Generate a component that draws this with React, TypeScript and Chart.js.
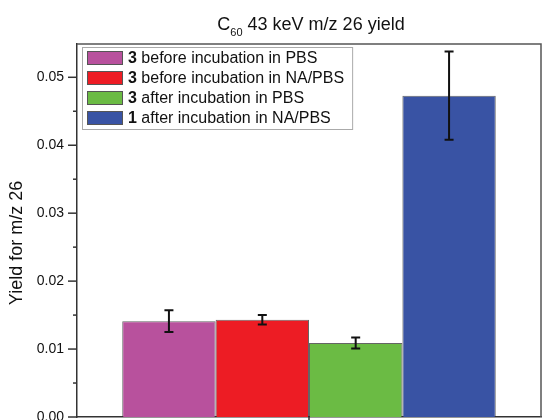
import React, { useEffect, useRef } from "react";
import { Chart, registerables } from "chart.js";

Chart.register(...registerables);

const categories = ["C60 43 keV m/z 26"];
const legendNumbers = ["3", "3", "3", "1"];
const legendTexts = [
  "before incubation in PBS",
  "before incubation in NA/PBS",
  "after incubation in PBS",
  "after incubation in NA/PBS",
];
const yieldValues = [0.0141, 0.0143, 0.0109, 0.0473];
const yieldErrors = [0.0016, 0.0007, 0.0008, 0.0065];
const barColors = ["#B8519D", "#ED1C24", "#6BBB44", "#3953A4"];
const yMin = 0;
const yMax = 0.0549;
const yStep = 0.005;
const yLabelStep = 0.01;
const titleMain = "C";
const titleSub = "60";
const titleRest = " 43 keV m/z 26 yield";
const yTitle = "Yield for m/z 26";

const FONT = "'Liberation Sans', Arial, Helvetica, sans-serif";

const isMultiple = (v: number, step: number) =>
  Math.abs(v / step - Math.round(v / step)) < 1e-6;

const customPlugin = {
  id: "customDraw",
  afterDatasetsDraw(chart: any) {
    const ctx = chart.ctx;
    const y = chart.scales.y;
    ctx.save();
    ctx.strokeStyle = "#111";
    ctx.lineWidth = 2;
    chart.data.datasets.forEach((ds: any, i: number) => {
      const meta = chart.getDatasetMeta(i);
      const bar = meta.data[0];
      if (!bar) return;
      const v = ds.data[0];
      const e = yieldErrors[i];
      const x = bar.x;
      const yt = y.getPixelForValue(v + e);
      const yb = y.getPixelForValue(v - e);
      ctx.beginPath();
      ctx.moveTo(x, yt);
      ctx.lineTo(x, yb);
      ctx.moveTo(x - 4.5, yt);
      ctx.lineTo(x + 4.5, yt);
      ctx.moveTo(x - 4.5, yb);
      ctx.lineTo(x + 4.5, yb);
      ctx.stroke();
    });
    ctx.restore();
  },
  afterDraw(chart: any) {
    const ctx = chart.ctx;
    const ca = chart.chartArea;
    const y = chart.scales.y;
    ctx.save();
    // frame top & right
    ctx.strokeStyle = "#555";
    ctx.lineWidth = 1.5;
    ctx.beginPath();
    ctx.moveTo(ca.left, ca.top);
    ctx.lineTo(ca.right, ca.top);
    ctx.lineTo(ca.right, ca.bottom);
    ctx.stroke();
    // y ticks
    ctx.strokeStyle = "#333";
    ctx.lineWidth = 1.5;
    y.ticks.forEach((t: any) => {
      const py = y.getPixelForValue(t.value);
      const len = isMultiple(t.value, yLabelStep) ? 9 : 4;
      ctx.beginPath();
      ctx.moveTo(ca.left - len, py);
      ctx.lineTo(ca.left, py);
      ctx.stroke();
    });
    // x tick at category center
    const cx = (ca.left + ca.right) / 2;
    ctx.beginPath();
    ctx.moveTo(cx, ca.bottom);
    ctx.lineTo(cx, ca.bottom + 6);
    ctx.stroke();

    // title
    ctx.fillStyle = "#111";
    ctx.textBaseline = "alphabetic";
    ctx.font = `18px ${FONT}`;
    const wMain = ctx.measureText(titleMain).width;
    const wRest = ctx.measureText(titleRest).width;
    ctx.font = `11px ${FONT}`;
    const wSub = ctx.measureText(titleSub).width;
    const total = wMain + wSub + wRest;
    let tx = cx + 2 - total / 2;
    const base = 30;
    ctx.textAlign = "left";
    ctx.font = `18px ${FONT}`;
    ctx.fillText(titleMain, tx, base);
    tx += wMain;
    ctx.font = `11px ${FONT}`;
    ctx.fillText(titleSub, tx, base + 6);
    tx += wSub;
    ctx.font = `18px ${FONT}`;
    ctx.fillText(titleRest, tx, base);

    // y title
    ctx.save();
    ctx.translate(17, 243);
    ctx.rotate(-Math.PI / 2);
    ctx.textAlign = "center";
    ctx.textBaseline = "middle";
    ctx.font = `18px ${FONT}`;
    ctx.fillText(yTitle, 0, 0);
    ctx.restore();

    // legend
    const lx = ca.left + 5;
    const ly = ca.top + 3;
    const rowH = 20;
    const textX = lx + 46;
    let maxW = 0;
    legendTexts.forEach((txt, i) => {
      ctx.font = `bold 16px ${FONT}`;
      const wb = ctx.measureText(legendNumbers[i] + " ").width;
      ctx.font = `16px ${FONT}`;
      const wt = ctx.measureText(txt).width;
      maxW = Math.max(maxW, wb + wt);
    });
    const boxW = textX + maxW + 8 - lx;
    const boxH = rowH * legendTexts.length + 2;
    ctx.fillStyle = "#fff";
    ctx.fillRect(lx, ly, boxW, boxH);
    ctx.strokeStyle = "#aaa";
    ctx.lineWidth = 1;
    ctx.strokeRect(lx + 0.5, ly + 0.5, boxW, boxH);
    legendTexts.forEach((txt, i) => {
      const ry = ly + 4 + i * rowH;
      ctx.fillStyle = barColors[i];
      ctx.fillRect(lx + 5, ry, 36, 14);
      ctx.strokeStyle = "#555";
      ctx.strokeRect(lx + 5.5, ry + 0.5, 35, 13);
      ctx.fillStyle = "#111";
      ctx.textAlign = "left";
      ctx.textBaseline = "middle";
      ctx.font = `bold 16px ${FONT}`;
      const num = legendNumbers[i] + " ";
      ctx.fillText(num, textX, ry + 7.5);
      const wb = ctx.measureText(num).width;
      ctx.font = `16px ${FONT}`;
      ctx.fillText(txt, textX + wb, ry + 7.5);
    });
    ctx.restore();
  },
};

export default function App() {
  const ref = useRef<HTMLCanvasElement | null>(null);
  useEffect(() => {
    if (!ref.current) return;
    const chart = new Chart(ref.current, {
      type: "bar",
      data: {
        labels: categories,
        datasets: yieldValues.map((v, i) => ({
          label: legendNumbers[i] + " " + legendTexts[i],
          data: [v],
          backgroundColor: barColors[i],
          borderColor: "rgba(50,50,50,0.75)",
          borderWidth: 1,
          categoryPercentage: 0.805,
          barPercentage: 1.0,
        })),
      },
      options: {
        responsive: false,
        animation: false,
        layout: { padding: { left: 0, top: 44, right: 2, bottom: 0 } },
        plugins: {
          legend: { display: false },
          title: { display: false },
          tooltip: { enabled: false },
        },
        scales: {
          x: {
            display: true,
            grid: { display: false, drawTicks: false },
            ticks: { display: false },
            border: { display: true, color: "#333", width: 1.5 },
            afterFit: (s: any) => {
              s.height = 3;
              s.paddingLeft = 0;
              s.paddingRight = 0;
            },
          },
          y: {
            min: yMin,
            max: yMax,
            grid: { display: false, drawTicks: false },
            border: { display: true, color: "#333", width: 1.5 },
            afterBuildTicks: (s: any) => {
              s.ticks = s.ticks.filter((t: any) => isMultiple(t.value, yStep));
            },
            ticks: {
              stepSize: yStep,
              autoSkip: false,
              padding: 13,
              color: "#111",
              font: { family: FONT, size: 14 },
              callback: (v: any) =>
                isMultiple(Number(v), yLabelStep) ? Number(v).toFixed(2) : "",
            },
            afterFit: (s: any) => {
              s.width = 77;
              s.paddingTop = 0;
              s.paddingBottom = 0;
            },
          },
        },
      },
      plugins: [customPlugin],
    });
    return () => chart.destroy();
  }, []);
  return (
    <div style={{ position: "absolute", left: 0, top: 0, width: 543, height: 420 }}>
      <canvas ref={ref} width={543} height={420} style={{ display: "block" }} />
    </div>
  );
}
